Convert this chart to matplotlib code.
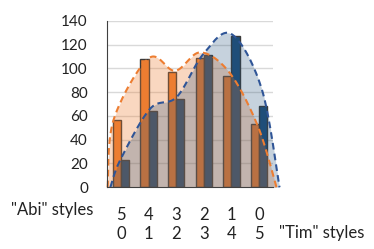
import numpy as np
import matplotlib
matplotlib.use("Agg")
import matplotlib.pyplot as plt

plt.rcParams['font.family'] = ['Lato', 'DejaVu Sans']

# bar data: groups are (Abi styles, Tim styles) splits
abi_counts = [5, 4, 3, 2, 1, 0]
tim_counts = [0, 1, 2, 3, 4, 5]
orange_vals = [57, 108, 97, 109, 94, 53]
blue_vals = [23, 64, 74, 111, 127, 68]

# smoothed envelope curves (x in category units)
orange_curve_x = [-0.49, -0.27, 1.0, 1.96, 2.88, 3.95, 4.97, 5.64]
orange_curve_y = [0, 57, 108.5, 98, 113.5, 96, 51, 0]
blue_curve_x = [-0.39, -0.03, 1.05, 2.02, 2.98, 4.0, 5.1, 5.75]
blue_curve_y = [0, 23, 66, 76, 112, 129, 83, 0]

yticks = [0, 20, 40, 60, 80, 100, 120, 140]

ORANGE = '#ED7D31'
BLUE = '#1F4E79'
LINE_BLUE = '#2F5597'


def catmull_rom(xs, ys, n=30):
    pts = np.column_stack([xs, ys]).astype(float)
    pts = np.vstack([pts[0], pts, pts[-1]])
    out = []
    for i in range(1, len(pts) - 2):
        p0, p1, p2, p3 = pts[i - 1], pts[i], pts[i + 1], pts[i + 2]
        t = np.linspace(0, 1, n, endpoint=False)[:, None]
        seg = 0.5 * ((2 * p1) + (-p0 + p2) * t +
                     (2 * p0 - 5 * p1 + 4 * p2 - p3) * t ** 2 +
                     (-p0 + 3 * p1 - 3 * p2 + p3) * t ** 3)
        out.append(seg)
    out.append(pts[-2][None, :])
    out = np.vstack(out)
    return out[:, 0], out[:, 1]


fig = plt.figure(figsize=(3.74, 2.49), dpi=100)
ax = fig.add_axes([0.287, 0.248, 0.442, 0.668])

x = np.arange(len(orange_vals))
w = 0.3
ax.bar(x - w / 2, orange_vals, w, color=ORANGE, edgecolor='#3a3a3a', linewidth=1, zorder=2)
ax.bar(x + w / 2, blue_vals, w, color=BLUE, edgecolor='#3a3a3a', linewidth=1, zorder=2)

ox, oy = catmull_rom(orange_curve_x, orange_curve_y)
bx, by = catmull_rom(blue_curve_x, blue_curve_y)
ax.fill_between(ox, 0, oy, color=ORANGE, alpha=0.3, linewidth=0, zorder=3, clip_on=False)
ax.fill_between(bx, 0, by, color=BLUE, alpha=0.25, linewidth=0, zorder=3, clip_on=False)
ax.plot(ox, oy, color=ORANGE, lw=1.5, dashes=(3.2, 2.0), zorder=4, clip_on=False)
ax.plot(bx, by, color=LINE_BLUE, lw=1.5, dashes=(3.2, 2.0), zorder=4, clip_on=False)

# gridlines stop at the category edges
ax.hlines(yticks[1:], -0.5, 5.5, color='#d9d9d9', lw=1, zorder=0)

ax.set_xlim(-0.5, 5.5)
ax.set_ylim(0, 140)
ax.set_yticks(yticks)
ax.set_xticks(x)
ax.set_xticklabels([f"{a}\n{t}" for a, t in zip(abi_counts, tim_counts)],
                   linespacing=1.25)
ax.tick_params(axis='y', length=0, pad=14, labelsize=11, labelcolor='#222222')
ax.tick_params(axis='x', length=0, pad=14, labelsize=12, labelcolor='#222222')

for s in ['top', 'right']:
    ax.spines[s].set_visible(False)
ax.spines['left'].set_color('#404040')
ax.spines['bottom'].set_color('#404040')
ax.spines['left'].set_zorder(5)
ax.spines['bottom'].set_zorder(5)

fig.text(93 / 374, 1 - 210 / 249, '"Abi" styles', ha='right', va='center',
         fontsize=12, color='#222222')
fig.text(279 / 374, 1 - 233 / 249, '"Tim" styles', ha='left', va='center',
         fontsize=12, color='#222222')

fig.savefig('out.png', dpi=100)
